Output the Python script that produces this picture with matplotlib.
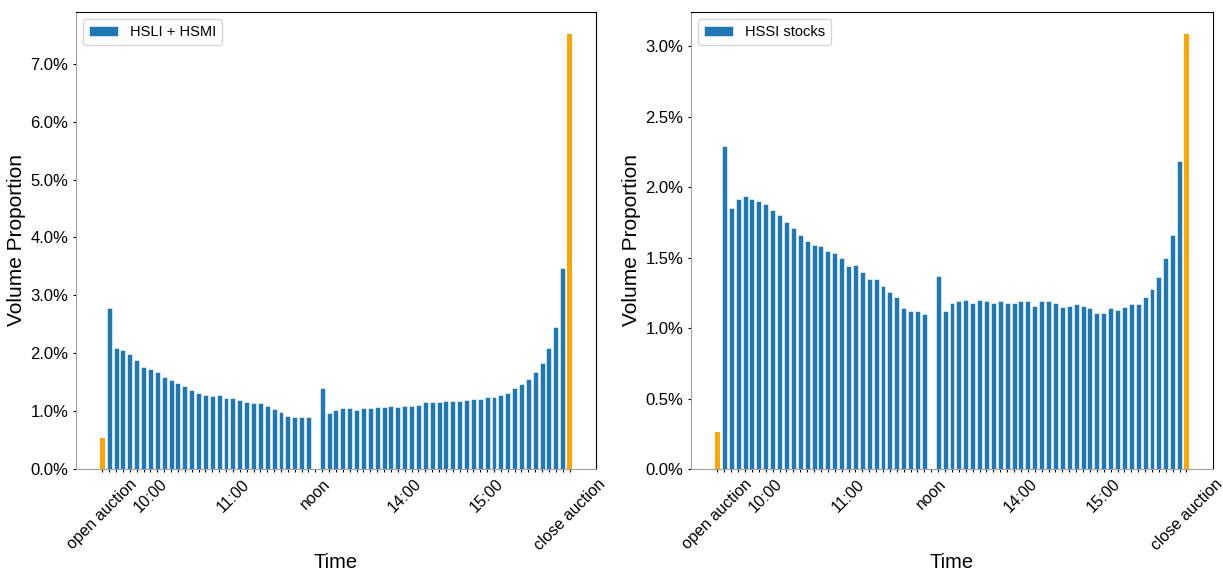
import matplotlib.pyplot as plt
from matplotlib.ticker import PercentFormatter

plt.rcParams['font.family'] = ['Liberation Sans', 'DejaVu Sans']

# volume proportion in percent, 5-minute bins
# morning 09:30-11:55, afternoon 13:00-15:55
large_open = 0.53
large_close = 7.52
large_morning = [2.78, 2.09, 2.05, 1.98, 1.88, 1.77, 1.72, 1.67, 1.59, 1.53,
                 1.49, 1.43, 1.37, 1.32, 1.28, 1.26, 1.28, 1.22, 1.22, 1.20,
                 1.16, 1.14, 1.14, 1.09, 1.03, 0.99, 0.92, 0.90, 0.90, 0.90]
large_afternoon = [1.40, 0.97, 1.02, 1.05, 1.06, 1.02, 1.05, 1.05, 1.07, 1.07,
                   1.09, 1.07, 1.09, 1.09, 1.11, 1.16, 1.16, 1.16, 1.17, 1.17,
                   1.17, 1.20, 1.21, 1.21, 1.25, 1.25, 1.28, 1.32, 1.40, 1.47,
                   1.56, 1.68, 1.83, 2.09, 2.45, 3.48]

small_open = 0.26
small_close = 3.09
small_morning = [2.29, 1.85, 1.92, 1.94, 1.92, 1.90, 1.88, 1.84, 1.80, 1.75,
                 1.71, 1.66, 1.62, 1.59, 1.58, 1.55, 1.53, 1.50, 1.44, 1.45,
                 1.40, 1.35, 1.35, 1.30, 1.26, 1.22, 1.14, 1.12, 1.12, 1.10]
small_afternoon = [1.37, 1.12, 1.18, 1.19, 1.20, 1.18, 1.20, 1.19, 1.18, 1.19,
                   1.18, 1.18, 1.19, 1.19, 1.16, 1.19, 1.19, 1.18, 1.15, 1.16,
                   1.17, 1.16, 1.14, 1.11, 1.11, 1.14, 1.13, 1.15, 1.17, 1.17,
                   1.22, 1.28, 1.36, 1.50, 1.66, 2.19]

# slot labels: open auction, 30 morning bins, noon break, 36 afternoon bins, close auction
shown_labels = {0: 'open auction', 7: '10:00', 19: '11:00', 31: 'noon',
                44: '14:00', 56: '15:00', 68: 'close auction'}


def draw_panel(ax, open_v, morning, afternoon, close_v, name):
    n_morning = len(morning)
    x_morning = list(range(1, n_morning + 1))
    noon = n_morning + 1
    x_afternoon = list(range(noon + 1, noon + 1 + len(afternoon)))
    x_close = x_afternoon[-1] + 1

    ax.bar(x_morning + x_afternoon, morning + afternoon, width=0.72,
           color='#1f77b4', edgecolor='white', linewidth=0.4, label=name)
    ax.bar([0, x_close], [open_v, close_v], width=0.8, color='orange')

    n_slots = x_close + 1
    ax.set_xticks(range(n_slots))
    ax.set_xticklabels([shown_labels.get(i, '') for i in range(n_slots)],
                       rotation=45, fontsize=11.5)
    ax.tick_params(axis='y', labelsize=12)
    ax.tick_params(length=2, width=0.8)
    ax.yaxis.set_major_formatter(PercentFormatter(100, decimals=1))
    ax.set_xlabel('Time', fontsize=14.5, labelpad=0)
    ax.set_ylabel('Volume Proportion', fontsize=15, labelpad=3)
    ax.legend(loc='upper left', fontsize=10.5)
    for side in ('left', 'bottom'):
        ax.spines[side].set_color('#a0a0a0')


fig = plt.figure(figsize=(12.23, 5.73), dpi=100)
ax1 = fig.add_axes([0.0621, 0.1815, 0.4252, 0.7976])
ax2 = fig.add_axes([0.565, 0.1815, 0.4268, 0.7976])

draw_panel(ax1, large_open, large_morning, large_afternoon, large_close, 'HSLI + HSMI')
draw_panel(ax2, small_open, small_morning, small_afternoon, small_close, 'HSSI stocks')

fig.savefig('out.png', dpi=100)
